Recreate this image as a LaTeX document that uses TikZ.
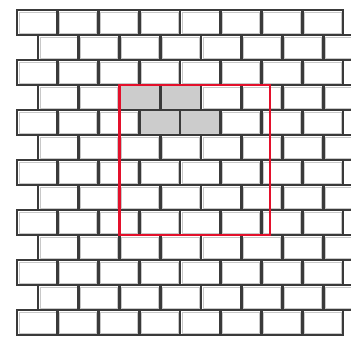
\documentclass[tikz,border=0pt]{standalone}
\usepackage{tikz}
\definecolor{mortar}{HTML}{3A3A3A}
\definecolor{shadowline}{HTML}{C8C8C8}
\definecolor{stone}{HTML}{CCCCCC}
\definecolor{framered}{HTML}{E3102B}
\tikzset{
  brick/.style={draw=mortar, line width=2.8pt, fill=white},
  stonebrick/.style={draw=mortar, line width=2.8pt, fill=stone},
  brickshade/.style={draw=shadowline, line width=0.7pt},
  selframe/.style={draw=framered, line width=2.6pt}
}

\begin{document}
\begin{tikzpicture}[x=1pt,y=-1pt]
                \useasboundingbox (0,0) rectangle (351,340);
                \clip (0,0) rectangle (351,340);

                % Wall - 13 courses of bricks
                \foreach \r in {0,...,12}{
                  \pgfmathsetmacro\xo{ifthenelse(mod(\r,2)==0,17,38)}
                  \foreach \c in {0,...,7}{
                    \draw[brick] ({\xo+40.75*\c},{10+25*\r}) rectangle +(40.75,25);
                    \draw[brickshade] ({\xo+40.75*\c+1.9},{10+25*\r+1.9}) rectangle +(36.95,21.2);
                  }
                }

                % Grey bricks - fourth course
                \foreach \c in {2,3}{
                  \draw[stonebrick] ({38+40.75*\c},85) rectangle +(40.75,25);
                }

                % Grey bricks - fifth course
                \foreach \c in {3,4}{
                  \draw[stonebrick] ({17+40.75*\c},110) rectangle +(40.75,25);
                }

                % Selection square
                \draw[selframe] (119.5,85) rectangle (270,235);

\end{tikzpicture}
\end{document}
